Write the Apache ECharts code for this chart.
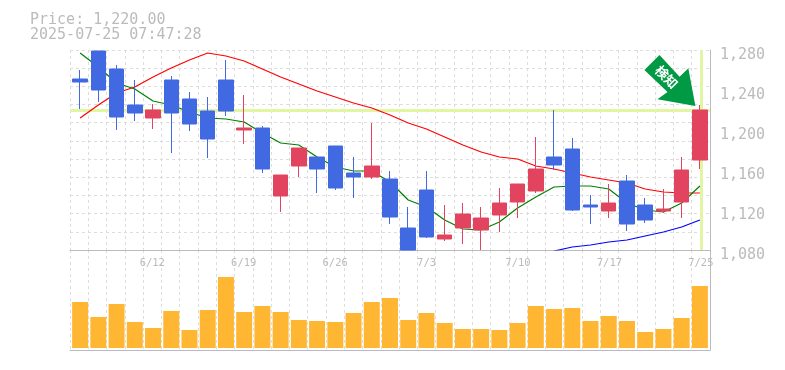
<!DOCTYPE html>
<html>
<head>
<meta charset="utf-8">
<style>html,body{margin:0;padding:0;background:#fff}#c{width:785px;height:370px}</style>
<script src="https://cdn.jsdelivr.net/npm/echarts@6/dist/echarts.min.js"></script>
</head>
<body>
<div id="c"></div>
<script>
const titleLines = ['Price: 1,220.00', '2025-07-25 07:47:28'];
const signalText = '検知';
const categories = ['6/6','6/9','6/10','6/11','6/12','6/13','6/16','6/17','6/18','6/19','6/20','6/23','6/24','6/25','6/26','6/27','6/30','7/1','7/2','7/3','7/4','7/7','7/8','7/9','7/10','7/11','7/14','7/15','7/16','7/17','7/18','7/22','7/23','7/24','7/25'];
const tickLabels = ['6/12','6/19','6/26','7/3','7/10','7/17','7/25'];
const opens  = [1251,1279,1261,1225,1212,1250,1231,1219,1250,1200,1202,1134,1164,1173,1184,1157,1153,1151,1102,1140,1091,1102,1100,1115,1128,1139,1173,1181,1125,1119,1149,1125,1119,1128,1170];
const closes = [1248,1240,1213,1217,1220,1217,1206,1191,1219,1202,1161,1155,1182,1161,1142,1153,1164,1113,1080,1093,1095,1116,1112,1127,1146,1161,1165,1120,1123,1127,1106,1110,1121,1160,1220];
const lows   = [1221,1228,1200,1209,1201,1177,1199,1172,1214,1186,1157,1118,1153,1137,1140,1132,1151,1106,1080,1092,1089,1086,1080,1098,1112,1137,1160,1119,1106,1112,1099,1107,1117,1112,1161];
const highs  = [1260,1279,1265,1250,1226,1254,1238,1233,1270,1235,1204,1155,1182,1173,1184,1173,1207,1159,1123,1159,1125,1127,1123,1142,1146,1193,1220,1192,1135,1146,1155,1132,1141,1173,1225];
const maShort = [1277,1263,1247,1241,1229,1225,1218,1212,1211,1208,1197,1187,1185,1173,1163,1159,1159,1148,1130,1123,1110,1101,1100,1108,1122,1133,1143,1144,1144,1141,1127,1120,1118,1127,1144];
const maMid   = [1212,1225,1237,1243,1253,1262,1270,1277,1274,1269,1261,1253,1246,1239,1233,1227,1222,1215,1207,1201,1193,1185,1178,1173,1171,1164,1161,1157,1153,1150,1147,1141,1138,1137,1137];
const maLong  = [null,null,null,null,null,null,null,null,null,null,null,null,null,null,null,null,null,null,null,null,null,null,null,null,null,null,1079,1083,1085,1088,1090,1094,1098,1103,1110];
const volumes = [46,31,44,26,20,37,18,38,71,36,42,36,28,27,26,35,46,50,28,35,25,19,19,18,25,42,39,40,27,32,27,16,19,30,62];
const lastPrice = 1220;
const lastDate = '7/25';
const priceTicks = {min:1080, max:1280, interval:40};

const grey = '#bbbbbb';
const gridGrey = '#dddddd';
const mono = '"DejaVu Sans Mono", monospace';
const dash = {color:gridGrey, width:1, type:[3,3]};
const arrowPath = 'path://M15 0L0 15L23 37L13 44.3L50.7 51L43.7 13.3L35 21.7Z';
const hiddenCat = g => ({type:'category', gridIndex:g, data:categories, boundaryGap:true, show:false});
const maSeries = (data,color) => ({type:'line', xAxisIndex:2, yAxisIndex:3, data, z:2, symbol:'none', lineStyle:{color, width:1.2}});

const chart = echarts.init(document.getElementById('c'), null, {renderer:'canvas'});
chart.setOption({
  animation:false,
  backgroundColor:'#ffffff',
  title:{text:titleLines.join('\n'), left:30, top:13, padding:0, textStyle:{fontFamily:mono, fontSize:15, fontWeight:'normal', color:grey, lineHeight:15}},
  grid:[
    {left:70, width:640, top:50, height:200},
    {left:70, width:640, top:250, height:100},
    {left:71, width:638, top:50, height:200},
    {left:71, width:638, top:250, height:100}
  ],
  xAxis:[
    {type:'category', gridIndex:0, data:categories, boundaryGap:true,
      axisTick:{show:false}, axisLine:{lineStyle:{color:grey,width:1}},
      splitLine:{show:true, interval:0, lineStyle:dash},
      axisLabel:{interval:(i,v)=>tickLabels.includes(v), margin:8, color:grey, fontFamily:mono, fontSize:10.5, hideOverlap:false}},
    {type:'category', gridIndex:1, data:categories, boundaryGap:true, position:'bottom',
      axisTick:{show:false}, axisLabel:{show:false}, axisLine:{onZero:false, lineStyle:{color:grey,width:1}},
      splitLine:{show:true, interval:0, lineStyle:dash}},
    hiddenCat(2),
    hiddenCat(3)
  ],
  yAxis:[
    {type:'value', gridIndex:0, position:'right', min:priceTicks.min, max:priceTicks.max, interval:priceTicks.interval,
      axisLine:{show:true, lineStyle:{color:grey,width:1}}, axisTick:{show:false}, splitLine:{show:false},
      axisLabel:{margin:10, color:grey, fontFamily:mono, fontSize:15, verticalAlign:'top', lineHeight:10, formatter:v=>v.toLocaleString('en-US')}},
    {type:'value', gridIndex:0, position:'left', min:0, max:11, interval:1,
      axisLine:{show:false}, axisTick:{show:false}, axisLabel:{show:false}, splitLine:{show:true, lineStyle:dash}},
    {type:'value', gridIndex:1, position:'right', min:-2, max:98,
      axisLine:{show:true, lineStyle:{color:grey,width:1}}, axisTick:{show:false}, axisLabel:{show:false}, splitLine:{show:false}},
    {type:'value', gridIndex:2, min:priceTicks.min, max:priceTicks.max, show:false, splitLine:{show:false}},
    {type:'value', gridIndex:3, min:-2, max:98, show:false, splitLine:{show:false}}
  ],
  series:[
    {type:'line', xAxisIndex:0, yAxisIndex:0, data:[], z:1, symbol:'none',
      markLine:{silent:true, z:1, symbol:'none', label:{show:false}, animation:false,
        lineStyle:{color:'#e1f5a3', width:3, type:'solid'},
        data:[{yAxis:lastPrice},{xAxis:lastDate}]}},
    maSeries(maLong,'#0000ff'),
    maSeries(maMid,'#ff0000'),
    maSeries(maShort,'#008000'),
    {type:'candlestick', xAxisIndex:2, yAxisIndex:3, z:3, barWidth:15,
      data:categories.map((_,i)=>[opens[i],closes[i],lows[i],highs[i]]),
      itemStyle:{color:'#e2445f', color0:'#4169e1', borderColor:'#e2445f', borderColor0:'#4169e1', borderWidth:1},
      markPoint:{silent:true, animation:false,
        data:[{coord:[lastDate,1225], symbol:arrowPath, symbolSize:[51,51], symbolOffset:[-30,-24.5],
          itemStyle:{color:'#009944'},
          label:{show:true, position:'inside', formatter:signalText, rotate:-45, offset:[-4.8,-0.1], color:'#ffffff', fontSize:13, fontWeight:'bold', fontFamily:'"Noto Sans CJK JP"'}}]}},
    {type:'bar', xAxisIndex:3, yAxisIndex:4, data:volumes, barWidth:16, itemStyle:{color:'#ffb733'}}
  ]
});
</script>
</body>
</html>
